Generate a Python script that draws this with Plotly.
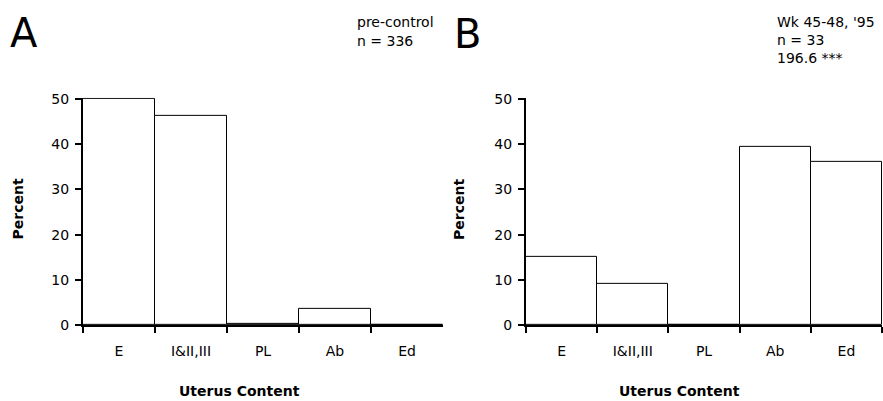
import plotly.graph_objects as go

categories = ["E", "I&II,III", "PL", "Ab", "Ed"]
values_a = [50, 46.3, 0.3, 3.5, 0]
values_b = [15, 9.1, 0, 39.3, 36.2]
y_ticks = [0, 10, 20, 30, 40, 50]

W, H = 883, 401
FAM = "DejaVu Sans, Verdana, sans-serif"
fig = go.Figure()
for vals, xa, ya in [(values_a, "x", "y"), (values_b, "x2", "y2")]:
    fig.add_trace(go.Bar(x=categories, y=vals, xaxis=xa, yaxis=ya,
                         marker=dict(color="white", line=dict(color="black", width=1)),
                         width=1, showlegend=False, cliponaxis=False))

font = dict(family=FAM, size=14, color="black")
YMAX = 50.25
PX_PER_UNIT = (325 - 99) / 50
y0 = (H - 325) / H
y1 = (H - (325 - YMAX * PX_PER_UNIT)) / H

def xaxis(dom, anchor):
    return dict(domain=dom, anchor=anchor, type="category", tickson="boundaries",
                showline=True, linecolor="black", linewidth=2, ticks="outside",
                ticklen=6, tickwidth=2, tickcolor="black", range=[-0.5, 4.5],
                showgrid=False, zeroline=False, tickfont=font, ticklabelstandoff=12,
                automargin=False, fixedrange=True)

def yaxis(anchor):
    return dict(domain=[y0, y1], anchor=anchor, range=[0, YMAX], tickvals=y_ticks,
                showline=True, linecolor="black", linewidth=2, ticks="outside",
                ticklen=6, tickwidth=2, tickcolor="black", showgrid=False,
                zeroline=False, tickfont=font, ticklabelstandoff=3,
                automargin=False, fixedrange=True)

fig.update_layout(
    width=W, height=H, margin=dict(l=0, r=0, t=0, b=0),
    paper_bgcolor="white", plot_bgcolor="white", bargap=0,
    xaxis=xaxis([83 / W, 443 / W], "y"),
    yaxis=yaxis("x"),
    xaxis2=xaxis([526 / W, 882 / W], "y2"),
    yaxis2=yaxis("x2"),
    font=font,
)

big = dict(family=FAM, size=40, color="black")
bold = dict(family=FAM, size=14, color="black")

def py(v):
    return 1 - v / H

ann = [
    dict(text="A", x=8 / W, y=py(33), font=big, xanchor="left", yanchor="middle"),
    dict(text="B", x=452 / W, y=py(34), font=big, xanchor="left", yanchor="middle"),
    dict(text="pre-control", x=355 / W, y=py(22), xanchor="left", yanchor="middle", font=font),
    dict(text="n = 336", x=355 / W, y=py(41), xanchor="left", yanchor="middle", font=font),
    dict(text="Wk 45-48, '95", x=775 / W, y=py(22), xanchor="left", yanchor="middle", font=font),
    dict(text="n = 33", x=775 / W, y=py(40), xanchor="left", yanchor="middle", font=font),
    dict(text="196.6 ***", x=775 / W, y=py(58), xanchor="left", yanchor="middle", font=font),
    dict(text="<b>Uterus Content</b>", x=240 / W, y=py(391), xanchor="center", yanchor="middle", font=bold),
    dict(text="<b>Uterus Content</b>", x=679 / W, y=py(391), xanchor="center", yanchor="middle", font=bold),
    dict(text="<b>Percent</b>", x=17.5 / W, y=py(209), xanchor="center", yanchor="middle",
         textangle=-90, font=bold),
    dict(text="<b>Percent</b>", x=459 / W, y=py(209), xanchor="center", yanchor="middle",
         textangle=-90, font=bold),
]
for a in ann:
    a.update(xref="paper", yref="paper", showarrow=False)
fig.update_layout(annotations=ann)

fig.write_html("out.html", config={"displayModeBar": False},
               post_script="document.body.style.margin='0';")
